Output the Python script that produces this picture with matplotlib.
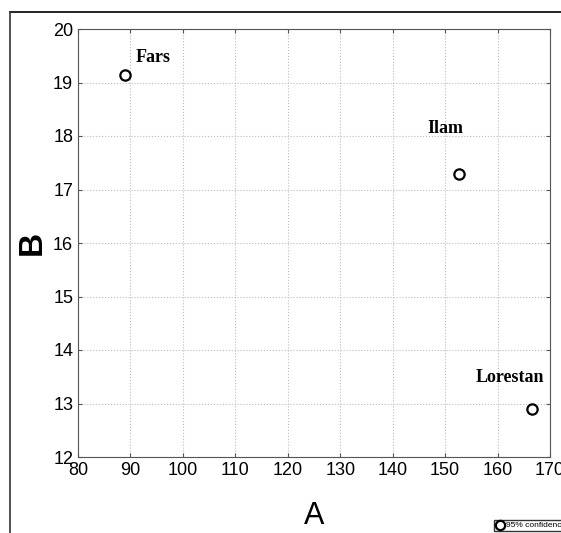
import matplotlib.pyplot as plt
from matplotlib.lines import Line2D

# Province positions
provinces = ["Fars", "Ilam", "Lorestan"]
a_values = [89.0, 152.7, 166.6]
b_values = [19.14, 17.29, 12.9]

x_ticks = [80, 90, 100, 110, 120, 130, 140, 150, 160, 170]
y_ticks = [12, 13, 14, 15, 16, 17, 18, 19, 20]

plt.rcParams['font.family'] = ['Liberation Sans', 'DejaVu Sans']

fig = plt.figure(figsize=(5.61, 5.33), dpi=100)
ax = fig.add_axes([78 / 561, 1 - 457 / 533, (550 - 78) / 561, (457 - 29) / 533])

ax.scatter(a_values, b_values, s=55, facecolors="white", edgecolors="black",
           linewidths=1.6, zorder=3, label="95% confidence")

# label offsets in data units
offsets = {"Fars": (1.9, 0.24), "Ilam": (-6.1, 0.77), "Lorestan": (-10.8, 0.5)}
for name, a, b in zip(provinces, a_values, b_values):
    dx, dy = offsets[name]
    ax.text(a + dx, b + dy, name, fontsize=13, fontweight="bold",
            family="Liberation Serif", ha="left", va="baseline")

ax.set_xlim(80, 170)
ax.set_ylim(12, 20)
ax.set_xticks(x_ticks)
ax.set_yticks(y_ticks)
ax.tick_params(labelsize=13, direction="in", length=3, top=True, right=True, color="#555555")
ax.grid(True, linestyle=":", color="#bbbbbb", linewidth=0.8)
for sp in ax.spines.values():
    sp.set_color("#555555")

ax.set_xlabel("A", fontsize=22, labelpad=16)
ax.set_ylabel("B", fontsize=24, fontweight="bold", labelpad=4)

ax.legend(loc="lower left", bbox_to_anchor=(490 / 561, -2 / 533), bbox_transform=fig.transFigure,
          fontsize=6, frameon=True, fancybox=False, edgecolor="black", handletextpad=0.2,
          borderpad=0.2, handlelength=1.0, markerscale=0.9)

# outer frame lines
fig.add_artist(Line2D([10 / 561, 1], [1 - 12 / 533, 1 - 12 / 533], color="black", lw=1.2))
fig.add_artist(Line2D([10 / 561, 10 / 561], [0, 1 - 12 / 533], color="#333333", lw=1.2))

fig.savefig("out.png", dpi=100)
